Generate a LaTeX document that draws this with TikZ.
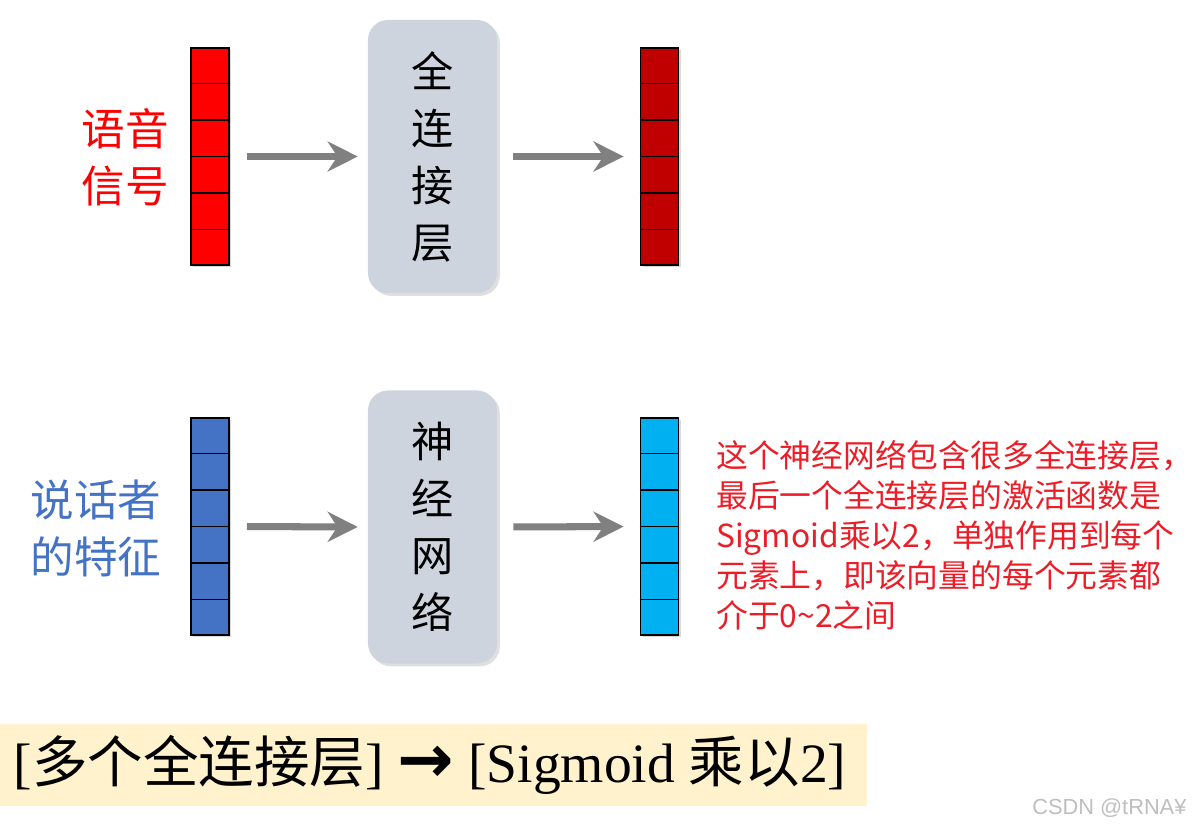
\documentclass[tikz,border=0pt]{standalone}
\usepackage{fontspec}
\setmainfont{Liberation Serif}
\newfontfamily\cjk{Noto Sans CJK SC}
\newfontfamily\symfont{DejaVu Sans}
\newfontfamily\markfont{Liberation Sans}
\usepackage{xcolor}
\definecolor{VecRed}{RGB}{255,0,0}
\definecolor{VecDarkRed}{RGB}{192,0,0}
\definecolor{VecBlue}{RGB}{68,114,196}
\definecolor{VecCyan}{RGB}{0,176,240}
\definecolor{BoxGray}{RGB}{206,212,222}
\definecolor{ArrowGray}{RGB}{128,128,128}
\definecolor{NoteRed}{RGB}{235,30,40}
\definecolor{FillBanner}{RGB}{255,242,204}
\definecolor{MarkGray}{RGB}{190,190,190}
\usetikzlibrary{
  shapes, arrows.meta,
  positioning, calc, shadows
}
\tikzset{
  % Vertical vector (six cells)
  vecbar/.style={
    rectangle, draw=black, line width=1.3pt,
    minimum width=0.95cm, minimum height=5.425cm,
    inner sep=0pt,
    drop shadow={shadow xshift=1.5pt, shadow yshift=-1.5pt, opacity=0.3}
  },
  vecbar red/.style={vecbar, fill=VecRed},
  vecbar darkred/.style={vecbar, fill=VecDarkRed},
  vecbar blue/.style={vecbar, fill=VecBlue},
  vecbar cyan/.style={vecbar, fill=VecCyan},
  % Rounded gray block
  nnbox/.style={
    rectangle, rounded corners=0.5cm,
    fill=BoxGray,
    minimum width=3.225cm, minimum height=6.825cm,
    align=center, inner sep=0pt,
    font=\cjk\fontsize{30}{40.5}\selectfont,
    drop shadow={shadow xshift=2pt, shadow yshift=-2pt, opacity=0.25}
  },
  % Side labels
  sidelabel/.style={align=center, font=\cjk\fontsize{31}{40.5}\selectfont},
  % Arrows
  arr/.style={-{Stealth[length=0.75cm,width=0.75cm]}, line width=5pt, ArrowGray},
  % Red note
  note/.style={align=left, text=NoteRed, inner sep=0pt,
    font=\cjk\fontsize{22.6}{28.4}\selectfont},
}

\begin{document}
\begin{tikzpicture}[x=0.025cm, y=-0.025cm]
  \useasboundingbox (0,0) rectangle (1202,829);

  % upper row
  \node[vecbar red] (vin) at (210,156.5) {};
  \node[nnbox] (fc) at (432.5,156.5) {全\\连\\接\\层};
  \node[vecbar darkred] (vout) at (659.5,156.5) {};
  \node[sidelabel, text=VecRed] (speech) at (125,157) {语音\\信号};

  % lower row
  \node[vecbar blue] (fin) at (210,526.5) {};
  \node[nnbox] (nn) at (432.5,527) {神\\经\\网\\络};
  \node[vecbar cyan] (fout) at (659.5,526.5) {};
  \node[sidelabel, text=VecBlue] (speaker) at (96,528) {说话者\\的特征};

  % cell lines
  \foreach \v in {vin,vout,fin,fout}
    \foreach \k in {1,...,5}
      \draw[line width=1.3pt] ($(\v.north west)!\k/6!(\v.south west)$) -- ($(\v.north east)!\k/6!(\v.south east)$);

  \draw[arr, shorten <=0.425cm, shorten >=0.25cm] (vin.east) -- (fc.west);
  \draw[arr, shorten <=0.4cm, shorten >=0.4cm] (fc.east) -- (vout.west);
  \draw[arr, shorten <=0.425cm, shorten >=0.25cm] (fin.east) -- (nn.west);
  \draw[arr, shorten <=0.4cm, shorten >=0.4cm] (nn.east) -- (fout.west);

  \node[note, anchor=west] (expl) at (716,535) {这个神经网络包含很多全连接层，\\最后一个全连接层的激活函数是\\Sigmoid乘以2，单独作用到每个\\元素上，即该向量的每个元素都\\介于0\textasciitilde2之间};

  % summary banner
  \node[rectangle, fill=FillBanner, inner sep=0pt, anchor=north west,
    minimum width=21.65cm, minimum height=2.05cm] (banner) at (0,724) {};
  \node[font=\fontsize{39.5}{40}\selectfont, inner sep=0pt] (summary) at (430,765)
    {{[}{\cjk 多个全连接层}{]} {\symfont\bfseries\fontsize{48}{40}\selectfont →} {[}Sigmoid {\cjk 乘以}2{]}};

  \node[font=\markfont\fontsize{15.5}{16}\selectfont, text=MarkGray, anchor=west, inner sep=0pt] (mark) at (1032,808) {CSDN @tRNA¥};
\end{tikzpicture}
\end{document}
